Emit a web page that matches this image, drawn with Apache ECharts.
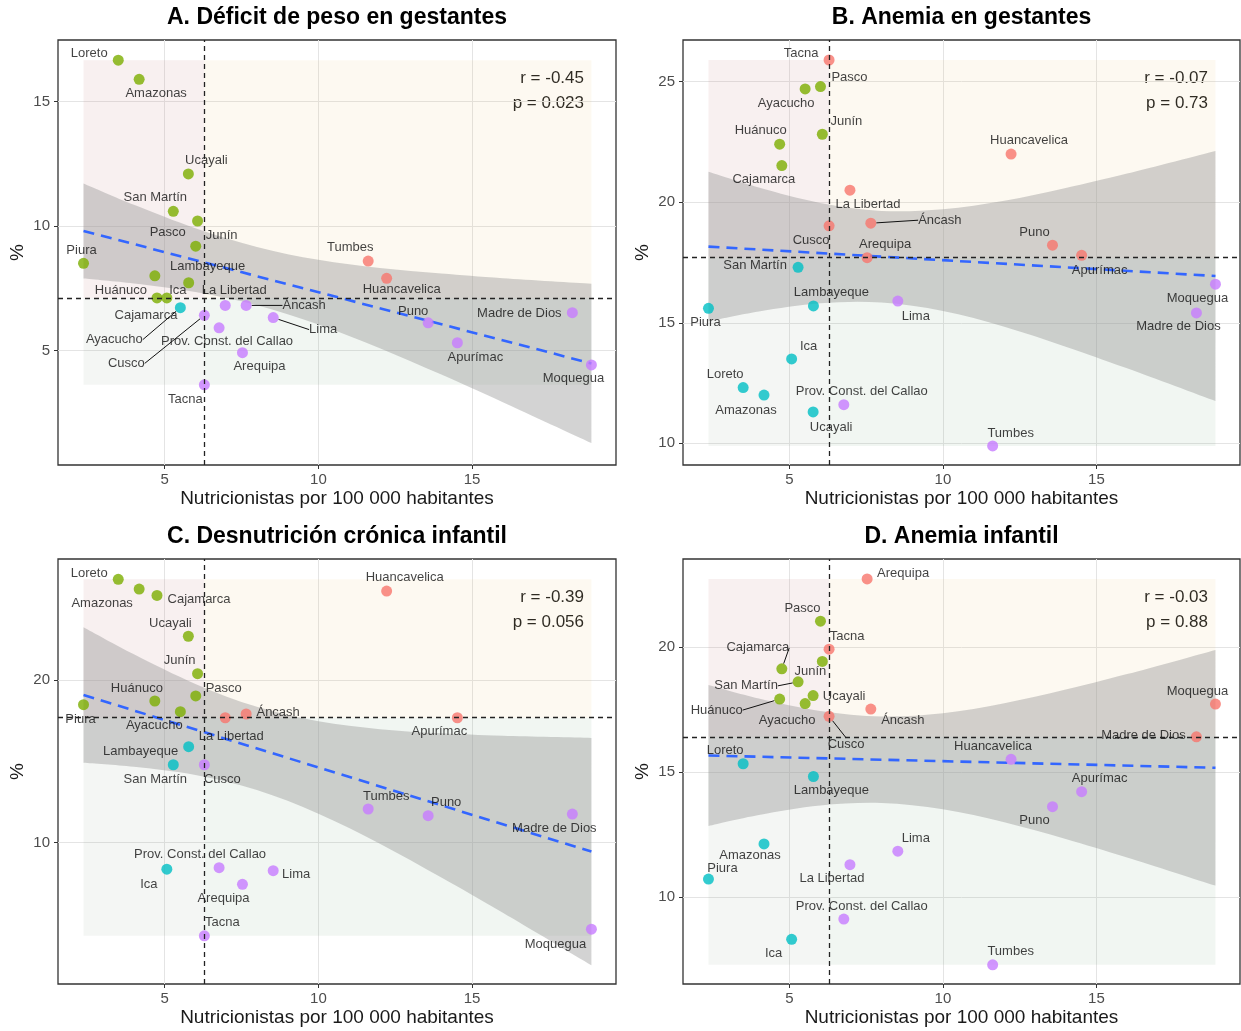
<!DOCTYPE html>
<html><head><meta charset="utf-8">
<script src="https://cdn.jsdelivr.net/npm/echarts@6/dist/echarts.min.js"></script>
<style>html,body{margin:0;padding:0;background:#fff}#c{width:1241px;height:1031px}</style>
</head><body><div id="c"></div>
<script>
// ---------------- DATA ----------------
const regions = ['Amazonas','Áncash','Apurímac','Arequipa','Ayacucho','Cajamarca','Prov. Const. del Callao','Cusco','Huancavelica','Huánuco','Ica','Junín','La Libertad','Lambayeque','Lima','Loreto','Madre de Dios','Moquegua','Pasco','Piura','Puno','San Martín','Tacna','Tumbes','Ucayali'];
const nutricionistas = [4.17,7.65,14.52,7.53,5.51,4.75,6.77,6.29,12.22,4.68,5.07,6.07,6.97,5.78,8.53,3.49,18.26,18.88,6.01,2.36,13.57,5.28,6.29,11.62,5.77];
const deficitPesoGestantes = [15.9,6.82,5.32,4.92,6.73,7.12,5.92,6.42,7.91,8.01,7.12,10.21,6.82,7.73,6.33,16.67,6.53,4.43,9.2,8.51,6.12,10.6,3.63,8.6,12.1];
const anemiaGestantes = [12.0,19.13,17.8,17.70,24.70,21.52,11.6,19.02,22.0,22.41,13.5,22.82,20.5,15.7,15.9,12.31,15.41,16.6,24.8,15.6,18.22,17.3,25.9,9.89,11.3];
const desnutricionCronica = [25.59,17.91,17.68,7.44,18.05,25.2,8.46,14.79,25.47,18.71,8.37,20.39,17.68,15.9,8.28,26.19,11.76,4.68,19.02,18.48,11.66,14.79,4.27,12.07,22.69];
const anemiaInfantil = [12.12,17.52,14.21,22.73,17.74,19.13,9.11,17.23,15.51,17.92,8.30,19.43,11.29,14.82,11.83,15.33,16.41,17.72,21.04,10.71,13.61,18.61,19.92,7.28,18.06];

const xCut = 6.29;
const yCuts = [7.12, 17.70, 17.68, 16.41];

const ribbonX = [2.36, 4, 6, 8, 10, 12, 14, 16, 18.88];
const ribbonLowA = [7.90, 7.70, 7.36, 6.83, 6.05, 5.10, 4.04, 2.93, 1.29];
const ribbonUpA  = [11.72, 10.86, 9.92, 9.17, 8.65, 8.32, 8.10, 7.91, 7.69];
const ribbonLowB = [15.06, 15.47, 15.81, 15.84, 15.49, 14.84, 14.01, 13.11, 11.75];
const ribbonUpB  = [21.26, 20.61, 19.97, 19.64, 19.71, 20.06, 20.59, 21.19, 22.13];
const ribbonLowC = [14.91, 14.66, 14.16, 13.23, 11.78, 9.94, 7.86, 5.69, 2.46];
const ribbonUpC  = [23.25, 21.58, 19.76, 18.35, 17.46, 16.98, 16.72, 16.57, 16.44];
const ribbonLowD = [12.84, 13.28, 13.66, 13.76, 13.51, 12.99, 12.32, 11.58, 10.45];
const ribbonUpD  = [18.48, 17.94, 17.44, 17.22, 17.35, 17.75, 18.30, 18.92, 19.89];

const fitA = [9.81, 4.49];
const fitB = [18.16, 16.94];
const fitC = [19.08, 9.45];
const fitD = [15.66, 15.17];

const titles = ['A. Déficit de peso en gestantes','B. Anemia en gestantes','C. Desnutrición crónica infantil','D. Anemia infantil'];
const statsR = ['r = -0.45','r = -0.07','r = -0.39','r = -0.03'];
const statsP = ['p = 0.023','p = 0.73','p = 0.056','p = 0.88'];
const xTicks = [5, 10, 15];
const yTicksA = [5, 10, 15];
const yTicksB = [10, 15, 20, 25];
const yTicksC = [10, 20];
const yTicksD = [10, 15, 20];
const xTitle = 'Nutricionistas por 100 000 habitantes';
const yTitle = '%';

// ---------------- LABEL PLACEMENT (px offsets from point) ----------------
const labelsA = {'Amazonas':[17,14],'Áncash':[58,0,1],'Apurímac':[18,15],'Arequipa':[17,14],'Ayacucho':[-66,32,1],'Cajamarca':[-11,17],'Prov. Const. del Callao':[8,14],'Cusco':[-78,48,1],'Huancavelica':[15,11],'Huánuco':[-34,15],'Ica':[11,-8],'Junín':[24,14],'La Libertad':[9,-15],'Lambayeque':[19,-16],'Lima':[50,12,1],'Loreto':[-29,-7],'Madre de Dios':[-53,1],'Moquegua':[-18,14],'Pasco':[-28,-14],'Piura':[-2,-13],'Puno':[-15,-11],'San Martín':[-18,-14],'Tacna':[-19,15],'Tumbes':[-18,-14],'Ucayali':[18,-14]};
const labelsB = {'Amazonas':[-18,15],'Áncash':[69,-3,1],'Apurímac':[18,15],'Arequipa':[18,-13],'Ayacucho':[-19,14],'Cajamarca':[-18,14],'Prov. Const. del Callao':[18,-13],'Cusco':[-18,15],'Huancavelica':[18,-14],'Huánuco':[-19,-14],'Ica':[17,-13],'Junín':[24,-13],'La Libertad':[18,14],'Lambayeque':[18,-13],'Lima':[18,15],'Loreto':[-18,-13],'Madre de Dios':[-18,14],'Moquegua':[-18,14],'Pasco':[29,-9],'Piura':[-3,14],'Puno':[-18,-13],'San Martín':[-43,-2],'Tacna':[-28,-7],'Tumbes':[18,-13],'Ucayali':[18,15]};
const labelsC = {'Amazonas':[-37,14],'Áncash':[32,-2],'Apurímac':[-18,14],'Arequipa':[-19,14],'Ayacucho':[-26,14],'Cajamarca':[42,4],'Prov. Const. del Callao':[-19,-13],'Cusco':[18,15],'Huancavelica':[18,-14],'Huánuco':[-18,-13],'Ica':[-18,15],'Junín':[-18,-13],'La Libertad':[6,19],'Lambayeque':[-48,5],'Lima':[23,4],'Loreto':[-29,-6],'Madre de Dios':[-18,14],'Moquegua':[-36,15],'Pasco':[28,-8],'Piura':[-3,15],'Puno':[18,-13],'San Martín':[-18,15],'Tacna':[18,-13],'Tumbes':[18,-13],'Ucayali':[-18,-13]};
const labelsD = {'Amazonas':[-14,12],'Áncash':[32,11],'Apurímac':[18,-13],'Arequipa':[36,-6],'Ayacucho':[-18,17],'Cajamarca':[-24,-21,1],'Prov. Const. del Callao':[18,-13],'Cusco':[17,28,1],'Huancavelica':[-18,-13],'Huánuco':[-63,11,1],'Ica':[-18,14],'Junín':[-12,10],'La Libertad':[-18,14],'Lambayeque':[18,14],'Lima':[18,-13],'Loreto':[-18,-13],'Madre de Dios':[-53,-1],'Moquegua':[-18,-13],'Pasco':[-18,-13],'Piura':[14,-11],'Puno':[-18,14],'San Martín':[-52,4,1],'Tacna':[18,-13],'Tumbes':[18,-13],'Ucayali':[31,1]};

// ---------------- BUILD ----------------
const FONT = "'Liberation Sans', Arial, Helvetica, sans-serif";
const COL = {TL:'#7CAE00', TR:'#F8766D', BL:'#00BFC4', BR:'#C77CFF'};
const QFILL = {TL:'rgba(195,115,115,0.11)', TR:'rgba(235,195,115,0.10)', BL:'rgba(145,165,145,0.10)', BR:'rgba(115,165,125,0.10)'};
const X_MIN = 1.53, X_MAX = 19.68;

const panels = [
  {y: deficitPesoGestantes, cut: yCuts[0], ymin: 0.41, ymax: 17.48, ticks: yTicksA, low: ribbonLowA, up: ribbonUpA, fit: fitA, lab: labelsA, left: 58, top: 40, width: 558},
  {y: anemiaGestantes, cut: yCuts[1], ymin: 9.10, ymax: 26.73, ticks: yTicksB, low: ribbonLowB, up: ribbonUpB, fit: fitB, lab: labelsB, left: 683, top: 40, width: 557},
  {y: desnutricionCronica, cut: yCuts[2], ymin: 1.31, ymax: 27.44, ticks: yTicksC, low: ribbonLowC, up: ribbonUpC, fit: fitC, lab: labelsC, left: 58, top: 559, width: 558},
  {y: anemiaInfantil, cut: yCuts[3], ymin: 6.51, ymax: 23.53, ticks: yTicksD, low: ribbonLowD, up: ribbonUpD, fit: fitD, lab: labelsD, left: 683, top: 559, width: 557}
];
const H = 425;

// Catmull-Rom spline through pixel points -> SVG cubic segments
function splineSegs(pts) {
  let d = '';
  for (let i = 0; i < pts.length - 1; i++) {
    const p0 = pts[Math.max(i - 1, 0)], p1 = pts[i], p2 = pts[i + 1], p3 = pts[Math.min(i + 2, pts.length - 1)];
    const c1 = [p1[0] + (p2[0] - p0[0]) / 6, p1[1] + (p2[1] - p0[1]) / 6];
    const c2 = [p2[0] - (p3[0] - p1[0]) / 6, p2[1] - (p3[1] - p1[1]) / 6];
    d += ' C' + c1[0].toFixed(2) + ',' + c1[1].toFixed(2) + ' ' + c2[0].toFixed(2) + ',' + c2[1].toFixed(2) + ' ' + p2[0].toFixed(2) + ',' + p2[1].toFixed(2);
  }
  return d;
}

const grids = [], xAxes = [], yAxes = [], series = [], graphics = [];
const xmin = Math.min(...nutricionistas), xmax = Math.max(...nutricionistas);

panels.forEach((p, i) => {
  grids.push({left: p.left, top: p.top, width: p.width, height: H, show: true, borderColor: '#333', borderWidth: 1.3, backgroundColor: 'rgba(0,0,0,0)'});
  xAxes.push({
    type: 'value', gridIndex: i, min: X_MIN, max: X_MAX,
    axisLine: {show: false},
    axisTick: {show: true, length: 4, lineStyle: {color: '#333', width: 1}, customValues: xTicks},
    axisLabel: {customValues: xTicks, fontSize: 15, color: '#4d4d4d', margin: 7, fontFamily: FONT},
    splitLine: {show: true, lineStyle: {color: '#e4e4e4', width: 1}},
    name: xTitle, nameLocation: 'middle', nameGap: 24,
    nameTextStyle: {fontSize: 19, color: '#1a1a1a', fontFamily: FONT}
  });
  yAxes.push({
    type: 'value', gridIndex: i, min: p.ymin, max: p.ymax,
    axisLine: {show: false},
    axisTick: {show: true, length: 4, lineStyle: {color: '#333', width: 1}, customValues: p.ticks},
    axisLabel: {customValues: p.ticks, fontSize: 15, color: '#4d4d4d', margin: 8, fontFamily: FONT},
    splitLine: {show: true, lineStyle: {color: '#e4e4e4', width: 1}},
    name: yTitle, nameLocation: 'middle', nameGap: 31,
    nameTextStyle: {fontSize: 19, color: '#1a1a1a', fontFamily: FONT}
  });

  const ymin = Math.min(...p.y), ymax = Math.max(...p.y);
  // quadrant shading
  series.push({
    type: 'line', xAxisIndex: i, yAxisIndex: i, z: 1, silent: true, data: [],
    markArea: {
      silent: true,
      data: [
        [{xAxis: xmin, yAxis: p.cut, itemStyle: {color: QFILL.TL}}, {xAxis: xCut, yAxis: ymax}],
        [{xAxis: xCut, yAxis: p.cut, itemStyle: {color: QFILL.TR}}, {xAxis: xmax, yAxis: ymax}],
        [{xAxis: xmin, yAxis: ymin, itemStyle: {color: QFILL.BL}}, {xAxis: xCut, yAxis: p.cut}],
        [{xAxis: xCut, yAxis: ymin, itemStyle: {color: QFILL.BR}}, {xAxis: xmax, yAxis: p.cut}]
      ]
    }
  });
  // confidence ribbon
  series.push({
    type: 'custom', xAxisIndex: i, yAxisIndex: i, z: 2, silent: true, clip: true,
    data: [[ribbonX[0], p.low[0]]],
    renderItem: (params, api) => {
      const up = ribbonX.map((x, k) => api.coord([x, p.up[k]]));
      const lo = ribbonX.map((x, k) => api.coord([x, p.low[k]])).reverse();
      const d = 'M' + up[0][0] + ',' + up[0][1] + splineSegs(up) +
                ' L' + lo[0][0] + ',' + lo[0][1] + splineSegs(lo) + ' Z';
      return {type: 'path', shape: {pathData: d}, style: {fill: 'rgba(150,150,150,0.42)', stroke: null}};
    }
  });
  // regression line
  series.push({
    type: 'line', xAxisIndex: i, yAxisIndex: i, z: 3, silent: true,
    data: [[xmin, p.fit[0]], [xmax, p.fit[1]]],
    symbol: 'none',
    lineStyle: {color: '#3366FF', width: 2.6, type: [11, 7]}
  });
  // points
  const items = regions.map((r, k) => {
    const x = nutricionistas[k], y = p.y[k];
    const q = (y >= p.cut ? 'T' : 'B') + (x >= xCut ? 'R' : 'L');
    const o = p.lab[r] || [0, -12];
    return {name: r, value: [x, y], itemStyle: {color: COL[q]}, labelLine: {show: !!o[2]}};
  });
  series.push({
    type: 'scatter', xAxisIndex: i, yAxisIndex: i, z: 4,
    symbolSize: 11, data: items,
    emphasis: {disabled: true},
    label: {show: true, position: 'inside', formatter: '{b}', fontSize: 13, color: '#111', fontFamily: FONT},
    labelLine: {show: false, lineStyle: {color: '#111', width: 1}},
    labelLayout: (params) => {
      const o = p.lab[regions[params.dataIndex]] || [0, -12];
      return {dx: o[0], dy: o[1]};
    }
  });
  // dashed cut lines
  series.push({
    type: 'line', xAxisIndex: i, yAxisIndex: i, z: 6, data: [],
    markLine: {
      silent: true, symbol: 'none', label: {show: false},
      lineStyle: {color: '#222', width: 1.3, type: [5, 4]},
      data: [{xAxis: xCut}, {yAxis: p.cut}]
    }
  });

  const cx = p.left + p.width / 2;
  graphics.push({type: 'text', x: cx, y: p.top - 22, style: {text: titles[i], font: 'bold 23px ' + FONT, fill: '#000', align: 'center', verticalAlign: 'middle', textAlign: 'center', textVerticalAlign: 'middle'}});
  const rx = p.left + p.width - 32;
  graphics.push({type: 'text', x: rx, y: p.top + 38, style: {text: statsR[i], font: '17px ' + FONT, fill: '#1a1a1a', align: 'right', verticalAlign: 'middle', textAlign: 'right', textVerticalAlign: 'middle'}});
  graphics.push({type: 'text', x: rx, y: p.top + 63, style: {text: statsP[i], font: '17px ' + FONT, fill: '#1a1a1a', align: 'right', verticalAlign: 'middle', textAlign: 'right', textVerticalAlign: 'middle'}});
});

const chart = echarts.init(document.getElementById('c'), null, {renderer: 'canvas'});
chart.setOption({
  animation: false,
  backgroundColor: '#fff',
  textStyle: {fontFamily: FONT},
  grid: grids, xAxis: xAxes, yAxis: yAxes, series: series,
  graphic: graphics
});
</script></body></html>
